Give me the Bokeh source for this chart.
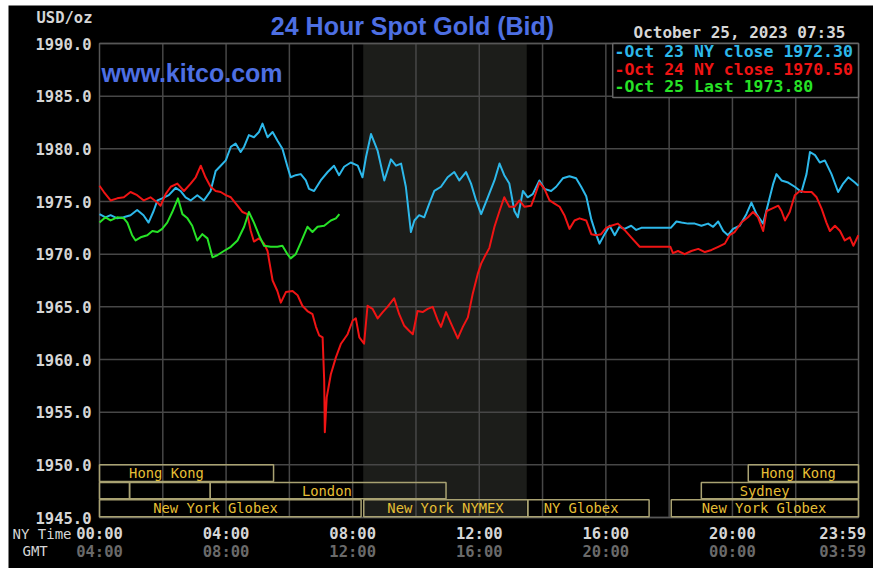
from bokeh.plotting import figure
from bokeh.models import (Range1d, FixedTicker, LinearAxis, Label, ColumnDataSource,
                          NumeralTickFormatter)
from bokeh.embed import file_html
from bokeh.resources import INLINE
from bokeh.core.properties import value

# ---------------- data (hours NY time, USD/oz) ----------------
oct23_hours = [0.00, 0.19, 0.35, 0.56, 0.76, 0.98, 1.19, 1.39, 1.55, 1.71, 1.83, 1.98, 2.19, 2.41, 2.56,
               2.72, 2.88, 3.09, 3.30, 3.51, 3.67, 3.83, 3.99, 4.15, 4.30, 4.46, 4.57, 4.72, 4.88, 5.04,
               5.15, 5.31, 5.47, 5.62, 5.78, 5.94, 6.04, 6.20, 6.36, 6.52, 6.62, 6.78, 6.99, 7.21, 7.41,
               7.57, 7.73, 7.94, 8.16, 8.31, 8.42, 8.58, 8.79, 9.00, 9.21, 9.37, 9.53, 9.68, 9.84, 9.95,
               10.10, 10.26, 10.42, 10.58, 10.79, 11.00, 11.21, 11.37, 11.58, 11.74, 11.90, 12.06, 12.27,
               12.48, 12.64, 12.79, 12.95, 13.11, 13.22, 13.38, 13.53, 13.69, 13.90, 14.06, 14.27, 14.43,
               14.64, 14.85, 15.06, 15.22, 15.38, 15.54, 15.70, 15.80, 15.96, 16.12, 16.28, 16.43, 16.59,
               16.80, 16.96, 17.12, 18.05, 18.23, 18.39, 18.60, 18.81, 19.02, 19.23, 19.39, 19.55, 19.71,
               19.86, 20.02, 20.23, 20.44, 20.60, 20.76, 20.97, 21.13, 21.29, 21.39, 21.55, 21.76, 21.97,
               22.18, 22.34, 22.45, 22.61, 22.76, 22.92, 23.13, 23.34, 23.50, 23.66, 23.87, 23.98]
oct23_price = [1973.8, 1973.5, 1973.7, 1973.4, 1973.5, 1973.7, 1974.2, 1973.7, 1973.0, 1974.1, 1975.1,
               1975.3, 1975.6, 1976.3, 1976.0, 1975.4, 1975.1, 1975.6, 1975.1, 1976.0, 1977.9, 1978.4,
               1978.9, 1980.2, 1980.5, 1979.7, 1980.2, 1981.3, 1981.1, 1981.6, 1982.4, 1981.1, 1981.6,
               1980.8, 1980.0, 1978.3, 1977.3, 1977.5, 1977.6, 1977.0, 1976.2, 1976.0, 1977.0, 1977.8,
               1978.4, 1977.5, 1978.3, 1978.7, 1978.4, 1977.3, 1979.2, 1981.4, 1979.8, 1977.0, 1979.0,
               1978.4, 1978.6, 1976.4, 1972.1, 1973.2, 1973.7, 1973.5, 1974.8, 1976.0, 1976.4, 1977.3,
               1977.8, 1977.0, 1977.8, 1976.7, 1975.1, 1973.8, 1975.4, 1977.0, 1978.6, 1977.5, 1976.7,
               1974.1, 1973.5, 1976.0, 1975.4, 1975.7, 1977.0, 1976.2, 1976.0, 1976.4, 1977.2, 1977.4,
               1977.2, 1976.4, 1975.5, 1973.3, 1971.8, 1971.0, 1971.9, 1972.7, 1971.8, 1972.6, 1972.4,
               1972.7, 1972.3, 1972.5, 1972.5, 1973.1, 1973.0, 1972.9, 1972.9, 1972.7, 1972.9, 1972.6,
               1973.1, 1972.2, 1971.8, 1972.4, 1972.7, 1973.8, 1974.9, 1973.8, 1972.9, 1974.8, 1976.7,
               1977.6, 1977.0, 1976.8, 1976.4, 1975.9, 1977.6, 1979.7, 1979.4, 1978.7, 1978.9, 1977.6,
               1975.9, 1976.7, 1977.3, 1976.8, 1976.5]

oct24_hours = [0.00, 0.14, 0.35, 0.56, 0.77, 0.98, 1.19, 1.40, 1.61, 1.83, 1.93, 2.09, 2.25, 2.46, 2.67,
               2.88, 3.04, 3.20, 3.35, 3.51, 3.67, 3.83, 3.99, 4.15, 4.36, 4.52, 4.67, 4.78, 4.88, 5.04,
               5.20, 5.31, 5.36, 5.47, 5.62, 5.73, 5.89, 6.10, 6.26, 6.41, 6.57, 6.73, 6.84, 6.94, 7.05,
               7.10, 7.12, 7.18, 7.31, 7.47, 7.63, 7.84, 8.00, 8.10, 8.21, 8.36, 8.47, 8.63, 8.79, 8.95,
               9.10, 9.31, 9.47, 9.63, 9.79, 9.90, 10.05, 10.21, 10.37, 10.53, 10.69, 10.79, 10.95, 11.11,
               11.32, 11.48, 11.64, 11.79, 11.95, 12.06, 12.16, 12.32, 12.48, 12.64, 12.79, 12.95, 13.11,
               13.27, 13.43, 13.64, 13.74, 13.90, 14.06, 14.22, 14.38, 14.54, 14.69, 14.85, 15.01, 15.17,
               15.38, 15.54, 15.70, 15.85, 16.01, 16.17, 16.38, 16.59, 16.80, 17.07, 18.04, 18.12, 18.28,
               18.49, 18.70, 18.92, 19.13, 19.34, 19.55, 19.76, 19.91, 20.07, 20.28, 20.49, 20.65, 20.81,
               20.97, 21.08, 21.23, 21.45, 21.55, 21.66, 21.81, 21.97, 22.13, 22.29, 22.50, 22.66, 22.82,
               22.97, 23.08, 23.24, 23.40, 23.55, 23.71, 23.82, 23.98]
oct24_price = [1976.5, 1975.9, 1975.1, 1975.3, 1975.4, 1975.9, 1975.6, 1975.1, 1975.4, 1974.9, 1974.6,
               1975.7, 1976.4, 1976.7, 1976.0, 1976.7, 1977.3, 1978.4, 1977.3, 1976.4, 1976.0, 1975.9,
               1975.6, 1975.4, 1974.6, 1974.0, 1973.8, 1972.2, 1971.2, 1971.5, 1971.0, 1970.3, 1969.4,
               1967.5, 1966.5, 1965.4, 1966.4, 1966.5, 1966.1, 1965.1, 1964.6, 1964.3, 1963.1, 1962.3,
               1962.1, 1958.0, 1953.1, 1956.4, 1958.6, 1960.2, 1961.5, 1962.4, 1963.7, 1963.9, 1962.1,
               1961.5, 1965.1, 1964.8, 1963.9, 1964.5, 1965.0, 1965.8, 1964.3, 1963.2, 1962.7, 1962.4,
               1964.6, 1964.5, 1964.8, 1965.0, 1963.7, 1963.1, 1964.5, 1963.4, 1962.0, 1963.1, 1964.0,
               1966.2, 1968.1, 1969.1, 1969.7, 1970.6, 1972.6, 1974.1, 1975.4, 1974.5, 1974.5, 1975.1,
               1974.5, 1974.6, 1975.4, 1976.8, 1976.2, 1975.1, 1974.8, 1974.5, 1973.7, 1972.4, 1973.2,
               1973.4, 1973.2, 1971.9, 1971.8, 1971.9, 1972.5, 1972.7, 1972.9, 1972.3, 1971.6, 1970.7,
               1970.7, 1970.1, 1970.3, 1970.0, 1970.3, 1970.5, 1970.2, 1970.4, 1970.7, 1971.0, 1971.8,
               1972.1, 1973.0, 1973.5, 1974.0, 1973.5, 1972.2, 1974.1, 1974.3, 1974.6, 1974.1, 1973.2,
               1974.0, 1975.6, 1976.0, 1975.9, 1975.9, 1975.4, 1974.3, 1973.0, 1972.2, 1972.7, 1972.2,
               1971.3, 1971.6, 1970.8, 1971.8]

oct25_hours = [0.00, 0.19, 0.35, 0.56, 0.77, 0.88, 1.03, 1.14, 1.30, 1.51, 1.67, 1.83, 1.98, 2.14, 2.30,
               2.48, 2.62, 2.78, 2.93, 3.09, 3.25, 3.41, 3.57, 3.72, 3.93, 4.15, 4.36, 4.57, 4.72, 4.88,
               5.04, 5.20, 5.41, 5.62, 5.78, 5.94, 6.04, 6.20, 6.36, 6.57, 6.73, 6.89, 7.10, 7.31, 7.47,
               7.58]
oct25_price = [1973.0, 1973.5, 1973.2, 1973.5, 1973.4, 1973.0, 1971.8, 1971.3, 1971.6, 1971.8, 1972.2,
               1972.1, 1972.4, 1973.0, 1974.0, 1975.3, 1973.8, 1973.4, 1972.7, 1971.3, 1971.9, 1971.5,
               1969.7, 1969.9, 1970.3, 1970.7, 1971.3, 1972.6, 1974.0, 1973.0, 1971.8, 1970.8, 1970.7,
               1970.7, 1970.8, 1970.0, 1969.6, 1970.0, 1971.1, 1972.6, 1972.1, 1972.6, 1972.7, 1973.2,
               1973.4, 1973.8]

legend_texts = ["-Oct 23 NY close 1972.30", "-Oct 24 NY close 1970.50", "-Oct 25 Last 1973.80"]

y_ticks = [1945, 1950, 1955, 1960, 1965, 1970, 1975, 1980, 1985, 1990]
x_tick_minutes = [0, 240, 480, 720, 960, 1200, 1439]
x_grid_minutes = [120, 240, 360, 480, 600, 720, 840, 960, 1080, 1200, 1320]
ny_time_labels = ["00:00", "04:00", "08:00", "12:00", "16:00", "20:00", "23:59"]
gmt_labels = ["04:00", "08:00", "12:00", "16:00", "20:00", "00:00", "03:59"]

# market sessions: name, start (min), end (min), row (0 top), label position (min)
session_names = ["Hong Kong", "Hong Kong", "", "", "London", "Sydney",
                 "New York Globex", "New York NYMEX", "NY Globex", "New York Globex"]
session_start = [0, 1230, 0, 57, 210, 1141, 0, 501, 812, 1084]
session_end = [330, 1439, 57, 210, 657, 1439, 496, 812, 1042, 1439]
session_row = [0, 0, 1, 1, 1, 1, 2, 2, 2, 2]
session_label_at = [127, 1325, 28, 133, 431, 1261, 220, 656, 913, 1260]
nymex_open_min, nymex_close_min = 500, 810

X0, X1 = 0, 1439
Y0, Y1 = 1945, 1990

# ---------------- figure ----------------
# the frame fills the whole canvas; axes are pinned to the chart box with fixed_location
W, H = 865, 563
px_x = 759 / (X1 - X0)
px_y = 474 / (Y1 - Y0)
p = figure(width=W, height=H,
           x_range=Range1d(X0 - 91 / px_x, X1 + 15 / px_x),
           y_range=Range1d(Y0 - 51 / px_y, Y1 + 38 / px_y),
           output_backend="svg", toolbar_location=None,
           background_fill_color="#000000", border_fill_color="#000000",
           min_border=0, min_border_left=0, min_border_right=0, min_border_top=0, min_border_bottom=0)
p.margin = (5, 9, 8, 8)
p.outline_line_color = None
p.grid.visible = False

mono = "DejaVu Sans Mono"
light = "#d6d6d6"

# NYMEX shading
p.quad(left=[nymex_open_min], right=[nymex_close_min], top=[Y1], bottom=[Y0],
       fill_color="#1c1d1a", line_color=None)

# grid lines and chart box
p.segment(x0=x_grid_minutes, x1=x_grid_minutes, y0=[Y0] * len(x_grid_minutes), y1=[Y1] * len(x_grid_minutes),
          line_color="#474747", line_width=1.5)
p.segment(x0=[X0] * len(y_ticks), x1=[X1] * len(y_ticks), y0=y_ticks, y1=y_ticks,
          line_color="#474747", line_width=1.5)
p.quad(left=[X0], right=[X1], top=[Y1], bottom=[Y0], fill_alpha=0, line_color="#575757", line_width=1.5)

# y axis
ya = p.yaxis[0]
ya.fixed_location = X0
ya.ticker = FixedTicker(ticks=y_ticks)
ya.formatter = NumeralTickFormatter(format="0.0")
ya.axis_line_color = None
ya.major_tick_line_color = None
ya.minor_tick_line_color = None
ya.major_label_standoff = 2
ya.major_label_text_font = mono
ya.major_label_text_font_style = "bold"
ya.major_label_text_font_size = "15.5px"
ya.major_label_text_color = light

# x axes (NY time and GMT); the last label (23:59) is drawn pulled in from the right edge,
# as in the original, so its tick label sits at 30 minutes before the edge
label_pull_in = 30
x_label_at = x_tick_minutes[:-1] + [x_tick_minutes[-1] - label_pull_in]
xa = p.xaxis[0]
xa2 = LinearAxis()
p.add_layout(xa2, "below")
for ax, labels, col, so in ((xa, ny_time_labels, light, 1), (xa2, gmt_labels, "#6a6a6a", 19)):
    ax.fixed_location = Y0
    ax.ticker = FixedTicker(ticks=x_label_at)
    ax.major_label_overrides = dict(zip(x_label_at, labels))
    ax.axis_line_color = None
    ax.major_tick_line_color = None
    ax.minor_tick_line_color = None
    ax.major_label_standoff = so
    ax.major_label_text_font = mono
    ax.major_label_text_font_style = "bold"
    ax.major_label_text_font_size = "15.5px"
    ax.major_label_text_color = col

# sessions
row_top = [1950.0, 1948.32, 1946.68]
row_bot = [1948.42, 1946.77, 1945.06]
sess = ColumnDataSource(dict(
    left=session_start, right=session_end,
    top=[row_top[r] for r in session_row], bottom=[row_bot[r] for r in session_row],
    name=session_names, lx=session_label_at,
    ly=[(row_top[r] + row_bot[r]) / 2 for r in session_row]))
p.quad(left="left", right="right", top="top", bottom="bottom", source=sess,
       fill_alpha=0, line_color="#a9a272", line_width=1.5)
p.text(x="lx", y="ly", text="name", source=sess, text_font=value(mono),
       text_font_size="13.8px", text_color="#e6bf35", text_align="center", text_baseline="middle")

# series
series = [(oct23_hours, oct23_price, "#2db8ea"),
          (oct24_hours, oct24_price, "#f01414"),
          (oct25_hours, oct25_price, "#27e327")]
for hrs, pr, col in series:
    p.line([h * 60 for h in hrs], pr, line_color=col, line_width=2, line_join="round")

# legend box
p.quad(left=[973], right=[X1], top=[Y1], bottom=[1984.87],
       fill_color="#000000", line_color="#666666", line_width=1.5)

# texts (screen units: from the canvas' bottom-left corner)
def lab(x, y, t, **kw):
    p.add_layout(Label(x=x, y=y, x_units="screen", y_units="screen", text=t, text_baseline="middle", **kw))

for i, (txt, (_, _, col)) in enumerate(zip(legend_texts, series)):
    lab(606, 517 - 17.5 * i, txt, text_font=mono, text_font_style="bold",
        text_font_size="16.5px", text_color=col)

lab(404, 543, "24 Hour Spot Gold (Bid)", text_font="Liberation Sans", text_font_style="bold",
    text_font_size="25px", text_color="#4d6fe3", text_align="center")
lab(93, 496, "www.kitco.com", text_font="Liberation Sans", text_font_style="bold",
    text_font_size="25px", text_color="#4d6fe3")
lab(84, 551, "USD/oz", text_font=mono, text_font_style="bold", text_font_size="15.5px",
    text_color=light, text_align="right")
lab(837, 536, "October 25, 2023 07:35", text_font=mono, text_font_style="bold",
    text_font_size="16px", text_color=light, text_align="right")
lab(4, 35, "NY Time", text_font=mono, text_font_size="14px", text_color=light)
lab(14, 18, "GMT", text_font=mono, text_font_size="14px", text_color=light)

open("out.html", "w").write(file_html(p, INLINE))
